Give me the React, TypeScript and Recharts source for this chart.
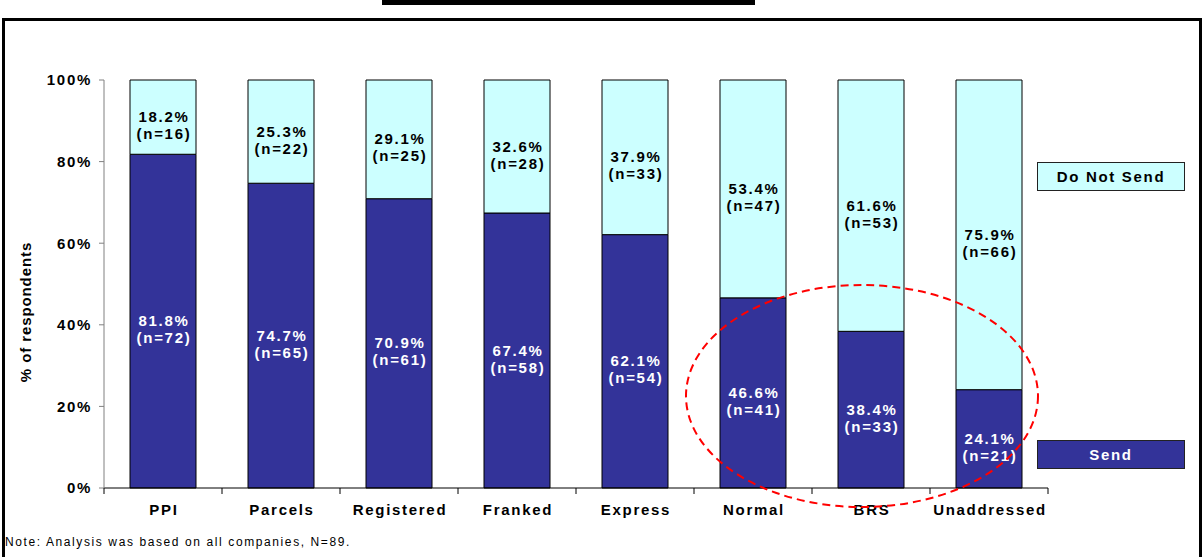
import React from 'react';
import { BarChart, Bar, XAxis, YAxis, LabelList, Label } from 'recharts';

const categories = ['PPI', 'Parcels', 'Registered', 'Franked', 'Express', 'Normal', 'BRS', 'Unaddressed'];
const sendPct = [81.8, 74.7, 70.9, 67.4, 62.1, 46.6, 38.4, 24.1];
const sendN = [72, 65, 61, 58, 54, 41, 33, 21];
const notSendPct = [18.2, 25.3, 29.1, 32.6, 37.9, 53.4, 61.6, 75.9];
const notSendN = [16, 22, 25, 28, 33, 47, 53, 66];
const yTicks = [0, 20, 40, 60, 80, 100];
const seriesNames = { send: 'Send', notSend: 'Do Not Send' };

const SEND = '#333399';
const NOT_SEND = '#CCFFFF';
const FONT = '"Liberation Sans", Arial, sans-serif';

const W = 1202;
const H = 557;
const margin = { top: 80, right: 154, bottom: 39, left: 44 };
const band = (W - 104 - margin.right) / categories.length;

const data = categories.map((c, i) => ({
    category: c,
    send: sendPct[i],
    notSend: notSendPct[i],
}));

const textStyle = {
    fontFamily: FONT,
    fontSize: 15,
    fontWeight: 'bold' as const,
    letterSpacing: 1.7,
};

const segmentLabel = (counts: number[], color: string) => (props: any) => {
    const { x, y, width, height, value, index } = props;
    const cx = x + width / 2 + 1;
    const cy = y + height / 2;
    return (
        <g>
            <text x={cx} y={cy + 5} textAnchor="middle" fill={color} style={textStyle}>
                {`${value}%`}
            </text>
            <text x={cx} y={cy + 22} textAnchor="middle" fill={color} style={textStyle}>
                {`(n=${counts[index]})`}
            </text>
        </g>
    );
};

const XTick = (props: any) => {
    const { x, y, payload } = props;
    const i = categories.indexOf(payload.value);
    return (
        <g>
            <line x1={x - band / 2} x2={x - band / 2} y1={y} y2={y + 6} stroke="#000" />
            {i === categories.length - 1 && (
                <line x1={x + band / 2} x2={x + band / 2} y1={y} y2={y + 6} stroke="#000" />
            )}
            <text x={x + 1} y={y + 27} textAnchor="middle" fill="#000" style={textStyle}>
                {payload.value}
            </text>
        </g>
    );
};

const YTitle = (props: any) => {
    const { x, y, height } = props.viewBox;
    const cx = x - 19;
    const cy = y + height / 2 + 28;
    return (
        <text
            x={cx}
            y={cy}
            transform={`rotate(-90, ${cx}, ${cy})`}
            textAnchor="middle"
            dominantBaseline="central"
            fill="#000"
            style={{ fontFamily: FONT, fontSize: 15, fontWeight: 'bold', letterSpacing: 0.9 }}
        >
            % of respondents
        </text>
    );
};

const legendBox = (top: number, label: string, bg: string, color: string) => (
    <div
        style={{
            position: 'absolute',
            left: 1037,
            top,
            width: 146,
            height: 27,
            background: bg,
            border: '1px solid #222',
            boxSizing: 'content-box',
            display: 'flex',
            alignItems: 'center',
            justifyContent: 'center',
            color,
            ...textStyle,
        }}
    >
        {label}
    </div>
);

export default function App() {
    return (
        <div
            style={{
                position: 'fixed',
                left: 0,
                top: 0,
                width: W,
                height: H,
                overflow: 'hidden',
                background: '#fff',
            }}
        >
            <div
                style={{
                    position: 'absolute',
                    left: 2,
                    top: 18,
                    width: 1194,
                    height: 600,
                    border: '3px solid #000',
                }}
            />
            <div style={{ position: 'absolute', left: 382, top: 0, width: 373, height: 5, background: '#000' }} />
            <div style={{ position: 'absolute', left: 0, top: 0 }}>
                <BarChart width={W} height={H} data={data} margin={margin}>
                    <XAxis
                        dataKey="category"
                        axisLine={{ stroke: '#000' }}
                        tickLine={false}
                        tickSize={0}
                        tickMargin={0}
                        height={30}
                        tick={<XTick />}
                        interval={0}
                    />
                    <YAxis
                        width={60}
                        domain={[0, 100]}
                        ticks={yTicks}
                        tickFormatter={(v) => `${v}%`}
                        axisLine={{ stroke: '#808080' }}
                        tickLine={{ stroke: '#808080' }}
                        tickSize={5}
                        tickMargin={7}
                        tick={{ fill: '#000', ...textStyle }}
                    >
                        <Label content={<YTitle />} />
                    </YAxis>
                    <Bar
                        dataKey="send"
                        name={seriesNames.send}
                        stackId="a"
                        fill={SEND}
                        stroke="#000"
                        strokeWidth={1}
                        barSize={66}
                        isAnimationActive={false}
                    >
                        <LabelList dataKey="send" content={segmentLabel(sendN, '#fff')} />
                    </Bar>
                    <Bar
                        dataKey="notSend"
                        name={seriesNames.notSend}
                        stackId="a"
                        fill={NOT_SEND}
                        stroke="#000"
                        strokeWidth={1}
                        barSize={66}
                        isAnimationActive={false}
                    >
                        <LabelList dataKey="notSend" content={segmentLabel(notSendN, '#000')} />
                    </Bar>
                </BarChart>
            </div>
            {legendBox(162, seriesNames.notSend, NOT_SEND, '#000')}
            {legendBox(440, seriesNames.send, SEND, '#fff')}
            <svg style={{ position: 'absolute', left: 0, top: 0, pointerEvents: 'none' }} width={W} height={H}>
                <ellipse cx={862} cy={396} rx={176} ry={111} fill="none" stroke="#FF0000" strokeWidth={2} strokeDasharray="8 5" />
            </svg>
            <div
                style={{
                    position: 'absolute',
                    left: 5,
                    top: 535,
                    fontFamily: FONT,
                    fontSize: 12,
                    letterSpacing: 1.6,
                    color: '#000',
                    whiteSpace: 'nowrap',
                }}
            >
                Note: Analysis was based on all companies, N=89.
            </div>
        </div>
    );
}
